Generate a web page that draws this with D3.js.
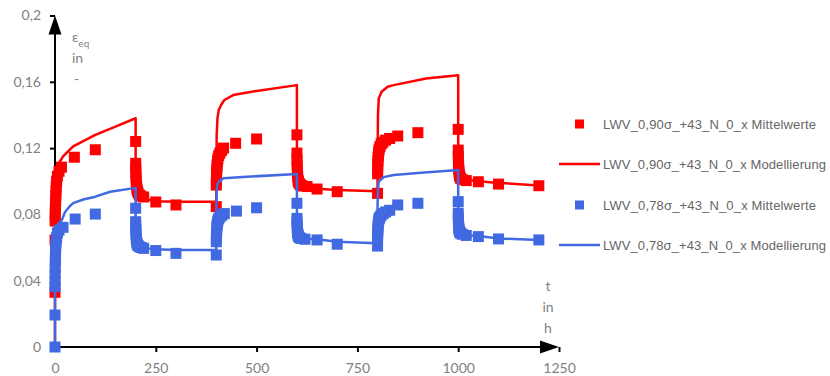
<!DOCTYPE html>
<html lang="de">
<head>
<meta charset="UTF-8">
<title>LWV Dehnung</title>
<script src="https://cdn.jsdelivr.net/npm/d3@7"></script>
<style>
    body { margin: 0; background: #fff; }
    .tick text { font-family: Lato, "Open Sans", sans-serif; font-size: 14px; fill: #7f7f7f; }
    .lbl { font-family: Lato, "Open Sans", sans-serif; font-size: 14px; fill: #7f7f7f; }
    .leg { font-family: "Liberation Sans", Arial, sans-serif; font-size: 13px; fill: #666; }
</style>
</head>
<body>
<svg id="chart" width="830" height="376"></svg>
<script>
// x ticks / y ticks
var xTicks = [0, 250, 500, 750, 1000, 1250];
var xTickLabels = ["0", "250", "500", "750", "1000", "1250"];
var yTicks = [0, 0.04, 0.08, 0.12, 0.16, 0.2];
var yTickLabels = ["0", "0,04", "0,08", "0,12", "0,16", "0,2"];

var seriesNames = [
    "LWV_0,90σ_+43_N_0_x Mittelwerte",
    "LWV_0,90σ_+43_N_0_x Modellierung",
    "LWV_0,78σ_+43_N_0_x Mittelwerte",
    "LWV_0,78σ_+43_N_0_x Modellierung"
];

// 0,90 sigma - measured mean values
var red90MeanT = [0, 0.1, 0.3, 0.5, 0.75, 1, 1.5, 2, 2.5, 3, 4, 6, 10, 16, 48, 100, 200,
    200.1, 200.3, 200.6, 201, 201.5, 202, 203, 204, 206, 209, 213, 220, 250, 300, 400,
    400.1, 400.3, 400.6, 401, 401.5, 402, 403, 404, 406, 409, 413, 418, 448, 500, 600,
    600.1, 600.3, 600.6, 601, 601.5, 602, 603, 604, 606, 609, 613, 625, 650, 700, 800,
    800.1, 800.3, 800.6, 801, 801.5, 802, 803, 804, 806, 809, 813, 820, 830, 850, 900, 1000,
    1000.1, 1000.3, 1000.6, 1001, 1001.5, 1002, 1003, 1004, 1006, 1010, 1020, 1050, 1100, 1200];
var red90MeanV = [0.033, 0.0645, 0.076, 0.079, 0.082, 0.085, 0.088, 0.091, 0.094, 0.097, 0.1, 0.103, 0.106, 0.1085, 0.1145, 0.119, 0.124,
    0.1108, 0.108, 0.105, 0.1025, 0.1, 0.098, 0.096, 0.0945, 0.093, 0.0918, 0.091, 0.0905, 0.0875, 0.0857, 0.0847,
    0.0977, 0.1, 0.103, 0.1055, 0.108, 0.11, 0.112, 0.1135, 0.1155, 0.117, 0.1185, 0.12, 0.1229, 0.1255, 0.128,
    0.117, 0.113, 0.11, 0.107, 0.1045, 0.1025, 0.1005, 0.0995, 0.0985, 0.0978, 0.0972, 0.0968, 0.0953, 0.0937, 0.0927,
    0.1045, 0.107, 0.11, 0.1125, 0.1145, 0.116, 0.118, 0.1195, 0.121, 0.1225, 0.1235, 0.1248, 0.1258, 0.1273, 0.1293, 0.1313,
    0.1188, 0.115, 0.112, 0.1095, 0.1072, 0.1055, 0.1038, 0.1028, 0.1018, 0.101, 0.1004, 0.0997, 0.0983, 0.0973];

// 0,90 sigma - model
var red90ModelT = [0, 0.1, 0.5, 1, 2, 5, 10, 20, 45, 100, 150, 200,
    200, 201, 203, 206, 210, 220, 250, 300, 400,
    400, 401, 403, 406, 412, 420, 442, 500, 600,
    600, 601, 603, 606, 612, 625, 650, 700, 800,
    800, 801, 803, 810, 825, 840, 920, 1000,
    1000, 1001, 1003, 1006, 1015, 1050, 1100, 1200];
var red90ModelV = [0, 0.06, 0.09, 0.1, 0.104, 0.108, 0.111, 0.115, 0.121, 0.128, 0.133, 0.138,
    0.108, 0.1, 0.096, 0.093, 0.091, 0.0895, 0.088, 0.0877, 0.0877,
    0.1, 0.128, 0.138, 0.143, 0.146, 0.149, 0.152, 0.1545, 0.158,
    0.115, 0.105, 0.1, 0.098, 0.097, 0.0962, 0.0955, 0.0947, 0.094,
    0.11, 0.14, 0.15, 0.154, 0.157, 0.158, 0.162, 0.164,
    0.12, 0.108, 0.104, 0.102, 0.101, 0.1, 0.099, 0.0975];

// 0,78 sigma - measured mean values
var blue78MeanT = [0, 0.05, 0.1, 0.2, 0.3, 0.5, 0.75, 1, 1.5, 2, 3, 4, 6, 10, 20, 50, 100, 200,
    200.1, 200.3, 200.6, 201, 201.5, 202, 203, 204, 206, 209, 214, 220, 250, 300, 400,
    400.1, 400.3, 400.6, 401, 401.5, 402, 403, 404, 406, 409, 414, 420, 450, 500, 600,
    600.1, 600.3, 600.6, 601, 601.5, 602, 603, 604, 606, 610, 620, 650, 700, 800,
    800.1, 800.3, 800.6, 801, 801.5, 802, 803, 804, 806, 809, 814, 820, 830, 850, 900, 1000,
    1000.1, 1000.3, 1000.6, 1001, 1001.5, 1002, 1003, 1004, 1006, 1010, 1020, 1050, 1100, 1200];
var blue78MeanV = [0, 0.0193, 0.0364, 0.04, 0.044, 0.048, 0.052, 0.055, 0.058, 0.061, 0.064, 0.066, 0.0688, 0.0705, 0.0722, 0.0772, 0.0802, 0.0837,
    0.0756, 0.073, 0.0705, 0.068, 0.066, 0.0645, 0.063, 0.062, 0.0612, 0.0605, 0.06, 0.0595, 0.0582, 0.0565, 0.0555,
    0.0635, 0.066, 0.068, 0.07, 0.072, 0.0735, 0.075, 0.0762, 0.0775, 0.0785, 0.0795, 0.0805, 0.082, 0.084, 0.0867,
    0.0776, 0.075, 0.073, 0.071, 0.0695, 0.0685, 0.0675, 0.0668, 0.066, 0.0655, 0.065, 0.0646, 0.062, 0.0609,
    0.066, 0.068, 0.07, 0.072, 0.0735, 0.075, 0.0765, 0.0775, 0.0785, 0.0795, 0.0805, 0.0815, 0.0825, 0.0857, 0.0867, 0.0877,
    0.0807, 0.078, 0.0755, 0.0735, 0.072, 0.071, 0.07, 0.0693, 0.0686, 0.068, 0.0673, 0.0666, 0.0652, 0.0646];

// 0,78 sigma - model
var blue78ModelT = [0, 0.1, 0.5, 1, 3, 8, 17, 25, 35, 45, 70, 100, 137, 200,
    200, 201, 203, 206, 212, 230, 250, 300, 400,
    400, 401, 403, 410, 418, 476, 600,
    600, 601, 603, 606, 615, 650, 700, 800,
    800, 801, 803, 815, 840, 900, 1000,
    1000, 1001, 1003, 1006, 1015, 1050, 1100, 1200];
var blue78ModelV = [0, 0.045, 0.06, 0.065, 0.07, 0.074, 0.0766, 0.0815, 0.0845, 0.0868, 0.089, 0.0907, 0.0937, 0.096,
    0.075, 0.068, 0.064, 0.062, 0.0605, 0.0595, 0.059, 0.0585, 0.0585,
    0.08, 0.094, 0.0985, 0.1005, 0.1018, 0.1027, 0.1044,
    0.08, 0.072, 0.068, 0.0665, 0.0655, 0.065, 0.0635, 0.0626,
    0.085, 0.095, 0.0998, 0.1025, 0.1038, 0.105, 0.1068,
    0.08, 0.074, 0.07, 0.0685, 0.0675, 0.067, 0.0655, 0.0645];

var RED = "#ff0000", BLUE = "#4169e1";

var svg = d3.select("#chart");

var x = d3.scaleLinear().domain([0, 1250]).range([55, 559]);
var y = d3.scaleLinear().domain([0, 0.2]).range([347, 15.5]);

function zipPts(ts, vs) {
    return ts.map(function (t, i) { return { t: t, v: vs[i] }; });
}

// axes
var xAxis = d3.axisBottom(x).tickValues(xTicks).tickSize(5).tickSizeOuter(0).tickPadding(6)
    .tickFormat(function (d, i) { return xTickLabels[i]; });
var yAxis = d3.axisLeft(y).tickValues(yTicks).tickSize(5).tickSizeOuter(0).tickPadding(9)
    .tickFormat(function (d, i) { return yTickLabels[i]; });

var gx = svg.append("g").attr("transform", "translate(0," + y(0) + ")").call(xAxis);
gx.select(".domain").remove();
gx.selectAll(".tick line").attr("stroke", "#000").attr("stroke-width", 2);
gx.selectAll(".tick text").attr("dy", "1.05em");

var gy = svg.append("g").attr("transform", "translate(" + x(0) + ",0)").call(yAxis);
gy.select(".domain").remove();
gy.selectAll(".tick line").attr("stroke", "#000").attr("stroke-width", 2);

// axis lines with arrow heads
svg.append("line")
    .attr("x1", x(0)).attr("y1", y(0) + 1).attr("x2", x(0)).attr("y2", y(0.2) + 10)
    .attr("stroke", "#000").attr("stroke-width", 2);
svg.append("path")
    .attr("d", "M" + x(0) + "," + y(0.2) + "L" + (x(0) - 6.5) + "," + (y(0.2) + 19) + "L" + (x(0) + 6.5) + "," + (y(0.2) + 19) + "Z")
    .attr("fill", "#000");
svg.append("line")
    .attr("x1", x(0) - 1).attr("y1", y(0)).attr("x2", x(1250) - 10).attr("y2", y(0))
    .attr("stroke", "#000").attr("stroke-width", 2);
svg.append("path")
    .attr("d", "M" + x(1250) + "," + y(0) + "L" + (x(1250) - 19) + "," + (y(0) - 6.5) + "L" + (x(1250) - 19) + "," + (y(0) + 6.5) + "Z")
    .attr("fill", "#000");

// axis titles
var yt = svg.append("text").attr("class", "lbl").attr("x", 72).attr("y", 42);
yt.append("tspan").text("ε");
yt.append("tspan").attr("dy", 5).attr("font-size", 10).text("eq");
svg.append("text").attr("class", "lbl").attr("x", 72).attr("y", 63).text("in");
svg.append("text").attr("class", "lbl").attr("x", 74).attr("y", 84).text("-");

svg.append("text").attr("class", "lbl").attr("x", 548).attr("y", 291).attr("text-anchor", "middle").text("t");
svg.append("text").attr("class", "lbl").attr("x", 548).attr("y", 312).attr("text-anchor", "middle").text("in");
svg.append("text").attr("class", "lbl").attr("x", 548).attr("y", 333).attr("text-anchor", "middle").text("h");

var line = d3.line()
    .x(function (d) { return x(d.t); })
    .y(function (d) { return y(d.v); });

var sq = 11;

function drawLine(ts, vs, col) {
    svg.append("path")
        .datum(zipPts(ts, vs))
        .attr("fill", "none")
        .attr("stroke", col)
        .attr("stroke-width", 2.5)
        .attr("stroke-linejoin", "round")
        .attr("d", line);
}

function drawMarkers(ts, vs, col) {
    svg.append("g").selectAll("rect")
        .data(zipPts(ts, vs))
        .enter().append("rect")
        .attr("x", function (d) { return x(d.t) - sq / 2; })
        .attr("y", function (d) { return y(d.v) - sq / 2; })
        .attr("width", sq)
        .attr("height", sq)
        .attr("fill", col);
}

drawLine(red90ModelT, red90ModelV, RED);
drawMarkers(red90MeanT, red90MeanV, RED);
drawLine(blue78ModelT, blue78ModelV, BLUE);
drawMarkers(blue78MeanT, blue78MeanV, BLUE);

// legend
var legY = [124, 164, 205, 245];
var legCol = [RED, RED, BLUE, BLUE];
var leg = svg.append("g");
seriesNames.forEach(function (name, i) {
    if (i % 2 === 0) {
        leg.append("rect").attr("x", 575).attr("y", legY[i] - 4.5).attr("width", 9).attr("height", 9).attr("fill", legCol[i]);
    } else {
        leg.append("line").attr("x1", 559).attr("x2", 600).attr("y1", legY[i]).attr("y2", legY[i])
            .attr("stroke", legCol[i]).attr("stroke-width", 2.5);
    }
    leg.append("text").attr("class", "leg").attr("x", 603).attr("y", legY[i]).attr("dy", "0.35em")
        .attr("textLength", i % 2 === 0 ? 213 : 223).attr("lengthAdjust", "spacing").text(name);
});
</script>
</body>
</html>
